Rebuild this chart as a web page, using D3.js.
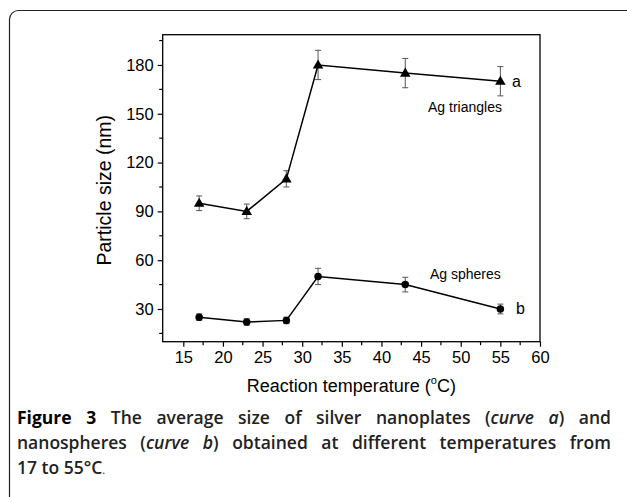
<!DOCTYPE html>
<html><head><meta charset="utf-8">
<script src="https://cdn.jsdelivr.net/npm/d3@7"></script>
<style>body{margin:0;background:#fff}svg{display:block}</style>
</head><body>
<svg id="c" width="627" height="497"></svg>
<script>
const temps = [17, 23, 28, 32, 43, 55];
const sizeA = [95, 90, 110, 180, 175, 170];
const errA = [4.5, 4.5, 5, 9, 9, 9];
const sizeB = [25, 22, 23, 50, 45, 30];
const errB = [2, 2, 2, 5, 4.5, 3];
const xTicks = [15, 20, 25, 30, 35, 40, 45, 50, 55, 60];
const yTicks = [30, 60, 90, 120, 150, 180];

const svg = d3.select("#c");
const F = "'Liberation Sans', Arial, sans-serif";

// outer rounded box (cut off on right/bottom)
svg.append("rect").attr("x", 9.5).attr("y", 10.5).attr("width", 640).attr("height", 540)
  .attr("rx", 9).attr("fill", "none").attr("stroke", "#222").attr("stroke-width", 1.2);

const L = 162.7, R = 540, T = 34.7, B = 341.7;
const x = d3.scaleLinear().domain([12.4, 60]).range([L, R]);
const y = d3.scaleLinear().domain([9.9, 198.6]).range([B, T]);

// frame
svg.append("rect").attr("x", L).attr("y", T).attr("width", R - L).attr("height", B - T)
  .attr("fill", "none").attr("stroke", "#000").attr("stroke-width", 1.3);

// x axis
const xMinor = d3.range(17.5, 60, 5);
const gx = svg.append("g").attr("transform", `translate(0,${B})`);
gx.call(d3.axisBottom(x).tickValues(xTicks).tickSize(5).tickPadding(5).tickFormat(d3.format("d")));
gx.select(".domain").remove();
gx.selectAll("text").attr("font-family", F).attr("font-size", 16.5).attr("fill", "#000");
gx.selectAll("line").attr("stroke-width", 1.2);
gx.selectAll(".minor").data(xMinor).enter().append("line")
  .attr("x1", d => x(d)).attr("x2", d => x(d)).attr("y1", 0).attr("y2", 3.5)
  .attr("stroke", "#000").attr("stroke-width", 1.2);

// y axis
const yMinor = [15, 45, 75, 105, 135, 165, 195];
const gy = svg.append("g").attr("transform", `translate(${L},0)`);
gy.call(d3.axisLeft(y).tickValues(yTicks).tickSize(5).tickPadding(4).tickFormat(d3.format("d")));
gy.select(".domain").remove();
gy.selectAll("text").attr("font-family", F).attr("font-size", 16.5).attr("fill", "#000");
gy.selectAll("line").attr("stroke-width", 1.2);
gy.selectAll(".minor").data(yMinor).enter().append("line")
  .attr("x1", 0).attr("x2", -3.5).attr("y1", d => y(d)).attr("y2", d => y(d))
  .attr("stroke", "#000").attr("stroke-width", 1.2);

// axis titles
const xt = svg.append("text").attr("x", (L + R) / 2).attr("y", 392).attr("text-anchor", "middle")
  .attr("font-family", F).attr("font-size", 18).attr("fill", "#000");
xt.append("tspan").text("Reaction temperature (");
xt.append("tspan").attr("font-size", 11).attr("dy", -8).text("o");
xt.append("tspan").attr("dy", 8).text("C)");

svg.append("text").attr("transform", `translate(111,${(T + B) / 2 + 2}) rotate(-90)`)
  .attr("text-anchor", "middle").attr("font-family", F).attr("font-size", 19.5).attr("fill", "#000")
  .text("Particle size (nm)");

// series
function series(vals, errs, kind) {
  const pts = temps.map((t, i) => ({ t, v: vals[i], e: errs[i] }));
  const g = svg.append("g");
  pts.forEach(p => {
    const cx = x(p.t), y1 = y(p.v + p.e), y2 = y(p.v - p.e);
    g.append("line").attr("x1", cx).attr("x2", cx).attr("y1", y1).attr("y2", y2).attr("stroke", "#555").attr("stroke-width", 1);
    [y1, y2].forEach(yy => g.append("line").attr("x1", cx - 3).attr("x2", cx + 3).attr("y1", yy).attr("y2", yy).attr("stroke", "#555").attr("stroke-width", 1));
  });
  g.append("path").datum(pts).attr("fill", "none").attr("stroke", "#000").attr("stroke-width", 1.5)
    .attr("d", d3.line().x(d => x(d.t)).y(d => y(d.v)));
  const sym = kind === "tri" ? d3.symbol().type(d3.symbolTriangle).size(48) : d3.symbol().type(d3.symbolCircle).size(44);
  g.selectAll(".m").data(pts).enter().append("path")
    .attr("transform", d => `translate(${x(d.t)},${y(d.v) + (kind === "tri" ? 0.5 : 0)})`)
    .attr("d", sym).attr("fill", "#000");
}
series(sizeA, errA, "tri");
series(sizeB, errB, "circ");

// labels
const lab = (tx, ty, s, fs) => svg.append("text").attr("x", tx).attr("y", ty).attr("font-family", F)
  .attr("font-size", fs).attr("fill", "#000").text(s);
lab(512, 87, "a", 16);
lab(516, 314, "b", 16);
lab(428, 112, "Ag triangles", 14);
lab(430, 279, "Ag spheres", 14);

// caption
const CF = "'Open Sans', 'Noto Sans', sans-serif";
const capLines = [
  { y: 424, justify: true, segs: [["Figure 3", "b"], [" The average size of silver nanoplates (", "n"], ["curve a", "i"], [") and", "n"]] },
  { y: 449, justify: true, segs: [["nanospheres (", "n"], ["curve b", "i"], [") obtained at different temperatures from", "n"]] },
  { y: 474, justify: false, segs: [["17 to 55°C", "n"], [".", "d"]] }
];
const capL = 17, capR = 611;
capLines.forEach(line => {
  const t = svg.append("text").attr("x", capL).attr("y", line.y).attr("font-family", CF)
    .attr("font-size", 17.5).attr("fill", "#222");
  line.segs.forEach(([s, st]) => {
    const ts = t.append("tspan").text(s);
    if (st === "b") ts.attr("font-weight", 700).attr("fill", "#000");
    else ts.attr("font-weight", 600);
    if (st === "i") ts.attr("font-style", "italic");
    if (st === "d") ts.attr("font-weight", 400).attr("font-size", 11);
  });
  if (line.justify) {
    const w = t.node().getComputedTextLength();
    const nSp = line.segs.map(s => s[0]).join("").split(" ").length - 1;
    t.style("word-spacing", ((capR - capL - w) / nSp) + "px");
  }
});
</script>
</body></html>
